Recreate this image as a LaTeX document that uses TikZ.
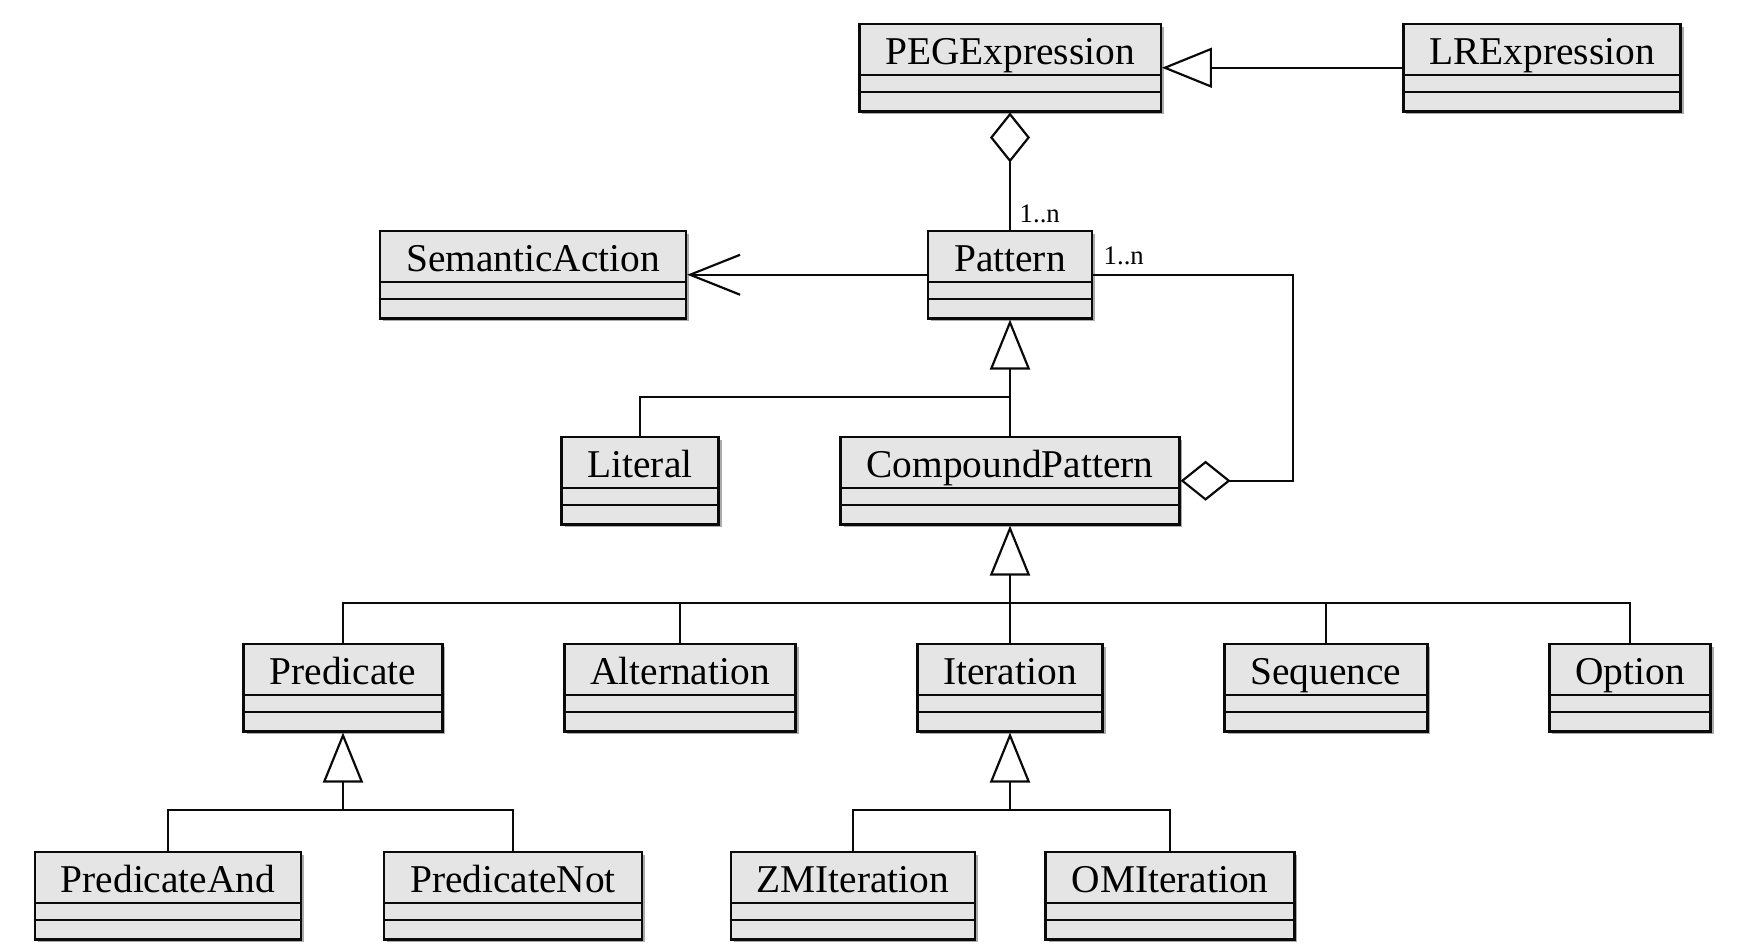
\documentclass[tikz,border=0pt]{standalone}
\usepackage{fontspec}
\setmainfont{Liberation Serif}
\usetikzlibrary{arrows.meta,shadows}
\definecolor{umlfill}{RGB}{229, 229, 229}
\definecolor{umlshadow}{RGB}{150, 150, 150}
\definecolor{umlline}{RGB}{10, 10, 10}

\begin{document}
\begin{tikzpicture}[
    x=0.01cm, y=-0.01cm,
    classbox/.style={draw=umlline, fill=umlfill, line width=0.7pt, anchor=north,
        inner xsep=0.26cm, inner ysep=0pt, text height=0.40cm, text depth=0.47cm,
        font=\fontsize{11.2}{13}\selectfont,
        drop shadow={shadow xshift=0.03cm, shadow yshift=-0.03cm, fill=umlshadow, opacity=0.8}},
    conn/.style={draw=umlline, line width=0.62pt},
    gen/.style={conn, -{Triangle[open, length=0.5cm, width=0.4cm]}},
    aggr/.style={conn, -{Diamond[open, length=0.5cm, width=0.4cm]}},
    nav/.style={conn, -{Straight Barb[length=0.5cm, width=0.4cm]}},
    multlbl/.style={font=\fontsize{7.6}{9}\selectfont, inner sep=0pt, anchor=base west}
]
\useasboundingbox (0,0) rectangle (1741,946);

% === Macro: clase UML con tres compartimentos ===
% #1=nombre, #2=x, #3=y (centro del borde superior), #4=texto
\newcommand{\umlclass}[4]{%
    \node[classbox] (#1) at (#2,#3) {#4};
    \draw[conn, line width=0.7pt] ([yshift=-0.52cm]#1.north west) -- ([yshift=-0.52cm]#1.north east);
    \draw[conn, line width=0.7pt] ([yshift=-0.69cm]#1.north west) -- ([yshift=-0.69cm]#1.north east);
}

% === Nivel superior ===
\umlclass{peg}{1010}{23}{PEGExpression}
\umlclass{lre}{1542}{23}{LRExpression}

% === Pattern y SemanticAction ===
\umlclass{semact}{533}{230}{SemanticAction}
\umlclass{pattern}{1010}{230}{Pattern}

% === Literal y CompoundPattern ===
\umlclass{literal}{640}{436}{Literal}
\umlclass{compound}{1010}{436}{CompoundPattern}

% === Subclases de CompoundPattern ===
\umlclass{predicate}{343}{643}{Predicate}
\umlclass{alternation}{680}{643}{Alternation}
\umlclass{iteration}{1010}{643}{Iteration}
\umlclass{sequence}{1326}{643}{Sequence}
\umlclass{option}{1630}{643}{Option}

% === Subclases de Predicate e Iteration ===
\umlclass{predand}{168}{851}{PredicateAnd}
\umlclass{prednot}{513}{851}{PredicateNot}
\umlclass{zmiter}{853}{851}{ZMIteration}
\umlclass{omiter}{1170}{851}{OMIteration}

% === Relaciones ===
\draw[gen] (lre.west) -- (peg.east);            % LRExpression -> PEGExpression
\draw[aggr] (pattern.north) -- (peg.south);     % PEGExpression <>- Pattern
\node[multlbl] (mulpeg) at (1019,223) {1..n};
\draw[nav] (pattern.west) -- (semact.east);     % Pattern -> SemanticAction

\coordinate (loopcorner) at (1293,400);
\draw[aggr] (pattern.east) -| (loopcorner) |- (compound.east);  % CompoundPattern <>- Pattern
\node[multlbl] (mulcomp) at (1103,265) {1..n};

% === Herencia desde Pattern ===
\coordinate (patjoin) at (1010,397);
\draw[gen] (compound.north) -- (pattern.south);
\draw[conn] (literal.north) |- (patjoin);

% === Herencia desde CompoundPattern ===
\coordinate (compjoin) at (1010,603);
\draw[gen] (iteration.north) -- (compound.south);
\foreach \c in {predicate, alternation, sequence, option}
    \draw[conn] (\c.north) |- (compjoin);

% === Herencia desde Predicate ===
\coordinate (predjoin) at (343,810);
\draw[gen] (predjoin) -- (predicate.south);
\foreach \c in {predand, prednot}
    \draw[conn] (\c.north) |- (predjoin);

% === Herencia desde Iteration ===
\coordinate (iterjoin) at (1010,810);
\draw[gen] (iterjoin) -- (iteration.south);
\foreach \c in {zmiter, omiter}
    \draw[conn] (\c.north) |- (iterjoin);

\end{tikzpicture}
\end{document}
